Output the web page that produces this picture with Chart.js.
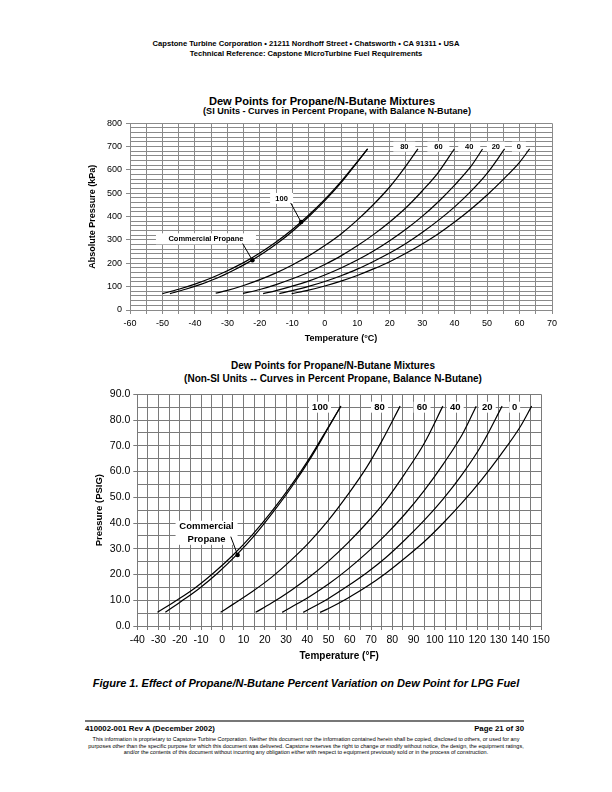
<!DOCTYPE html>
<html>
<head>
<meta charset="utf-8">
<script src="https://cdn.jsdelivr.net/npm/chart.js@4.4.1/dist/chart.umd.min.js"></script>
<style>
  body { margin: 0; background: #fff; font-family: "Liberation Sans", Arial, sans-serif; color: #000; }
  #page { position: relative; width: 612px; height: 792px; overflow: hidden; }
  .t { position: absolute; white-space: nowrap; font-weight: bold; }
  .c { left: 0; width: 612px; text-align: center; }
  canvas { position: absolute; }
</style>
</head>
<body>
<div id="page">
  <div class="t c" style="top:40px;font-size:7.6px;line-height:8px">Capstone Turbine Corporation • 21211 Nordhoff Street • Chatsworth • CA 91311 • USA</div>
  <div class="t c" style="top:50px;font-size:7.6px;line-height:8px">Technical Reference: Capstone MicroTurbine Fuel Requirements</div>

  <div class="t" style="left:222px;width:200px;top:95px;font-size:11.1px;line-height:12px;display:flex;justify-content:center">Dew Points for Propane/N-Butane Mixtures</div>
  <div class="t" style="left:237px;width:200px;top:106px;font-size:9.1px;line-height:10px;display:flex;justify-content:center">(SI Units - Curves in Percent Propane, with Balance N-Butane)</div>
  <canvas id="si" width="510" height="237" style="left:60px;top:113px"></canvas>

  <div class="t" style="left:233px;width:200px;top:360px;font-size:10px;line-height:12px;display:flex;justify-content:center">Dew Points for Propane/N-Butane Mixtures</div>
  <div class="t" style="left:233px;width:200px;top:373px;font-size:10px;line-height:12px;display:flex;justify-content:center">(Non-SI Units -- Curves in Percent Propane, Balance N-Butane)</div>
  <canvas id="us" width="510" height="284" style="left:60px;top:384px"></canvas>

  <div class="t c" style="top:677px;font-size:11px;line-height:13px;font-style:italic">Figure 1. Effect of Propane/N-Butane Percent Variation on Dew Point for LPG Fuel</div>

  <div style="position:absolute;left:85px;top:720px;width:439px;height:2px;background:#777"></div>
  <div class="t" style="left:85px;top:725px;font-size:7.8px;line-height:8px">410002-001 Rev A (December 2002)</div>
  <div class="t" style="right:88px;top:725px;font-size:7.8px;line-height:8px">Page 21 of 30</div>
  <div class="t c" style="top:736px;font-size:5.5px;line-height:6.5px;font-weight:normal">This information is proprietary to Capstone Turbine Corporation. Neither this document nor the information contained herein shall be copied, disclosed to others, or used for any<br>purposes other than the specific purpose for which this document was delivered. Capstone reserves the right to change or modify without notice, the design, the equipment ratings,<br>and/or the contents of this document without incurring any obligation either with respect to equipment previously sold or in the process of construction.</div>
</div>

<script>
// SI chart: temperature (°C) vs absolute pressure (kPa), curves in % propane
const siT100  = [-50, -45, -40, -35, -30, -25, -20, -15, -10, -5, 0, 5, 10, 13.2];
const siP100  = [70, 89, 111, 137, 168, 203, 244, 291, 345, 406, 474, 550, 635, 690];
const siTComm = [-47.7, -42.9, -38, -33.1, -28.4, -23.7, -18.9, -14.1, -9.3, -4.5, 0.4, 5.3, 10.1, 13.2];
const siPComm = [70, 89, 111, 137, 168, 203, 244, 291, 345, 406, 474, 550, 635, 690];
const siT80 = [-33.6, -30, -25, -20, -15, -10, -5, 0, 5, 10, 15, 20, 24, 28.7];
const siP80 = [72, 84, 105, 130, 159, 193, 231, 276, 326, 385, 452, 527, 598, 690];
const siT60 = [-25.2, -20, -15, -10, -5, 0, 5, 10, 15, 20, 25, 30, 35, 39.9];
const siP60 = [71, 88, 109, 134, 162, 195, 232, 275, 323, 377, 438, 510, 590, 690];
const siT40 = [-19, -15, -10, -5, 0, 5, 10, 15, 20, 25, 30, 35, 40, 45, 48.6];
const siP40 = [70, 83, 102, 124, 150, 180, 214, 253, 297, 346, 401, 464, 535, 615, 690];
const siT20 = [-14, -10, -5, 0, 5, 10, 15, 20, 25, 30, 35, 40, 45, 50, 55.4];
const siP20 = [70, 83, 101, 122, 147, 175, 208, 244, 285, 332, 384, 442, 508, 585, 690];
const siT0  = [-10.2, -5, 0, 5, 10, 15, 20, 25, 30, 35, 40, 45, 50, 55, 60, 63.1];
const siP0  = [70, 85, 103, 124, 148, 176, 207, 243, 283, 327, 377, 432, 493, 560, 633, 690];

// Non-SI chart: temperature (°F) vs pressure (psig)
const usT100  = [-30.5, -22, -13, -4, 5, 14, 23, 32, 41, 50, 55.8];
const usP100  = [5.3, 9.7, 14.7, 20.7, 27.5, 35.3, 44.2, 54.1, 65.1, 77.4, 85.4];
const usTComm = [-26.8, -19.1, -10.7, -2, 6.6, 15.3, 23.9, 32.7, 41.5, 50.2, 55.8];
const usPComm = [5.3, 9.7, 14.7, 20.7, 27.5, 35.3, 44.2, 54.1, 65.1, 77.4, 85.4];
const usT80 = [-0.8, 5, 14, 23, 32, 41, 50, 59, 68, 75.2, 83.7];
const usP80 = [5.3, 8.4, 13.3, 18.8, 25.3, 32.6, 41.1, 50.9, 61.7, 72.0, 85.4];
const usT60 = [15.7, 23, 32, 41, 50, 59, 68, 77, 86, 95, 103.8];
const usP60 = [5.3, 8.8, 13.6, 19.0, 25.2, 32.2, 40.0, 48.8, 59.3, 70.9, 85.4];
const usT40 = [28.2, 32, 41, 50, 59, 68, 77, 86, 95, 104, 113, 119.5];
const usP40 = [5.3, 7.1, 11.4, 16.3, 22.0, 28.4, 35.5, 43.5, 52.6, 62.9, 74.5, 85.4];
const usT20 = [38.1, 41, 50, 59, 68, 77, 86, 95, 104, 113, 122, 131.7];
const usP20 = [5.3, 6.6, 10.7, 15.5, 20.7, 26.6, 33.5, 41.0, 49.4, 59.0, 70.2, 85.4];
const usT0  = [46, 50, 59, 68, 77, 86, 95, 104, 113, 122, 131, 140, 145.6];
const usP0  = [5.3, 6.8, 10.8, 15.3, 20.5, 26.4, 32.7, 40.0, 48.0, 56.8, 66.5, 77.1, 85.4];

const FONT = '"Liberation Sans", Arial, sans-serif';
Chart.defaults.font.family = FONT;
Chart.defaults.color = '#000';

const pts = (xs, ys) => xs.map((v, i) => ({ x: v, y: ys[i] }));
const curve = (label, xs, ys) => ({
  label, data: pts(xs, ys), showLine: true, borderColor: '#000', borderWidth: 1.2,
  pointRadius: 0, cubicInterpolationMode: 'monotone', fill: false
});

// labels, leader lines and dots drawn in data units
function notes(cfg) {
  return {
    id: 'notes',
    beforeDatasetsDraw(chart) {
      const { ctx, scales: { x, y } } = chart;
      ctx.save();
      ctx.font = cfg.font;
      ctx.textAlign = 'center';
      ctx.textBaseline = 'middle';
      cfg.boxes.forEach(b => {
        const cx = x.getPixelForValue(b.x), cy = y.getPixelForValue(b.y);
        ctx.fillStyle = '#fff';
        ctx.fillRect(cx - b.w / 2, cy - b.h / 2, b.w, b.h);
        ctx.fillStyle = '#000';
        const lines = b.text.split('\n');
        lines.forEach((t, i) => ctx.fillText(t, cx, cy + (i - (lines.length - 1) / 2) * cfg.gap));
      });
      ctx.restore();
    },
    afterDatasetsDraw(chart) {
      const { ctx, scales: { x, y } } = chart;
      ctx.save();
      ctx.strokeStyle = '#000';
      ctx.lineWidth = 1;
      cfg.arrows.forEach(a => {
        ctx.beginPath();
        ctx.moveTo(x.getPixelForValue(a[0]), y.getPixelForValue(a[1]));
        ctx.lineTo(x.getPixelForValue(a[2]), y.getPixelForValue(a[3]));
        ctx.stroke();
        ctx.beginPath();
        ctx.arc(x.getPixelForValue(a[2]), y.getPixelForValue(a[3]), 2.3, 0, Math.PI * 2);
        ctx.fillStyle = '#000';
        ctx.fill();
      });
      ctx.restore();
    }
  };
}

function makeChart(id, datasets, o) {
  return new Chart(document.getElementById(id), {
    type: 'scatter',
    data: { datasets },
    plugins: [notes(o.notes)],
    options: {
      responsive: false,
      animation: false,
      devicePixelRatio: 1,
      layout: { padding: { left: 0, top: 10.3, right: o.padRight, bottom: 0 } },
      plugins: { legend: { display: false }, tooltip: { enabled: false } },
      scales: {
        x: {
          type: 'linear', min: o.xMin, max: o.xMax,
          afterFit: s => { s.height = o.xH; },
          grid: { color: o.grid, lineWidth: 1, tickLength: 4, tickColor: o.grid },
          border: { color: o.grid },
          ticks: {
            stepSize: 5, autoSkip: false, maxRotation: 0, padding: 4,
            font: { size: o.tickSize },
            callback: v => (v % 10 === 0 ? String(v) : '')
          },
          title: { display: true, text: o.xTitle, font: { size: o.xTitleSize, weight: 'bold' },
                   padding: { top: 0, bottom: o.xTitlePad } }
        },
        y: {
          type: 'linear', min: 0, max: o.yMax,
          afterFit: s => { s.width = o.yW; },
          grid: { color: o.grid, lineWidth: 1, tickLength: 4,
                  tickColor: c => (c.tick && c.tick.value % o.yMajor === 0 ? o.grid : 'rgba(0,0,0,0)') },
          border: { color: o.grid },
          ticks: {
            stepSize: o.yStep, autoSkip: false, padding: o.yPad,
            font: { size: o.tickSize },
            callback: v => (v % o.yMajor === 0 ? o.yFmt(v) : '')
          },
          title: { display: true, text: o.yTitle, font: { size: o.yTitleSize, weight: 'bold' },
                   padding: { top: o.yTitlePad, bottom: 0 } }
        }
      }
    }
  });
}

makeChart('si', [
  curve('100', siT100, siP100),
  curve('Commercial Propane', siTComm, siPComm),
  curve('80', siT80, siP80),
  curve('60', siT60, siP60),
  curve('40', siT40, siP40),
  curve('20', siT20, siP20),
  curve('0', siT0, siP0)
], {
  xMin: -60, xMax: 70, yMax: 800, yStep: 20, yMajor: 100, yFmt: v => String(v),
  padRight: 18, xH: 40, yW: 70, yPad: 4, tickSize: 9, grid: '#8a8a8a',
  xTitle: 'Temperature (°C)', xTitleSize: 9, xTitlePad: 6.3,
  yTitle: 'Absolute Pressure (kPa)', yTitleSize: 9, yTitlePad: 27.3,
  notes: {
    font: 'bold 7.5px ' + FONT, gap: 9,
    boxes: [
      { text: '80', x: 24.5, y: 700, w: 22, h: 10 },
      { text: '60', x: 35, y: 700, w: 22, h: 10 },
      { text: '40', x: 44.5, y: 700, w: 22, h: 10 },
      { text: '20', x: 52.7, y: 700, w: 18, h: 10 },
      { text: '0', x: 59.8, y: 700, w: 14, h: 10 },
      { text: '100', x: -13.3, y: 478, w: 23, h: 11 },
      { text: 'Commercial Propane', x: -36.6, y: 305, w: 100, h: 11 }
    ],
    arrows: [
      [-10.5, 459, -7.3, 377],
      [-25.3, 285, -22.3, 213]
    ]
  }
});

makeChart('us', [
  curve('100', usT100, usP100),
  curve('Commercial Propane', usTComm, usPComm),
  curve('80', usT80, usP80),
  curve('60', usT60, usP60),
  curve('40', usT40, usP40),
  curve('20', usT20, usP20),
  curve('0', usT0, usP0)
], {
  xMin: -40, xMax: 150, yMax: 90, yStep: 5, yMajor: 10, yFmt: v => v.toFixed(1),
  padRight: 29, xH: 42, yW: 77.3, yPad: 3, tickSize: 10.5, grid: '#7a7a7a',
  xTitle: 'Temperature (°F)', xTitleSize: 10, xTitlePad: 6,
  yTitle: 'Pressure (PSIG)', yTitleSize: 9.5, yTitlePad: 33.6,
  notes: {
    font: 'bold 9.5px ' + FONT, gap: 12.7,
    boxes: [
      { text: '100', x: 46, y: 85, w: 22, h: 11 },
      { text: '80', x: 74, y: 85, w: 17, h: 11 },
      { text: '60', x: 94, y: 85, w: 17, h: 11 },
      { text: '40', x: 109.6, y: 85, w: 17, h: 11 },
      { text: '20', x: 124.7, y: 85, w: 17, h: 11 },
      { text: '0', x: 137.6, y: 85, w: 11, h: 11 },
      { text: 'Commercial\nPropane', x: -7.4, y: 36.2, w: 62, h: 24 }
    ],
    arrows: [
      [4, 34.7, 7.2, 27.6]
    ]
  }
});
</script>
</body>
</html>
